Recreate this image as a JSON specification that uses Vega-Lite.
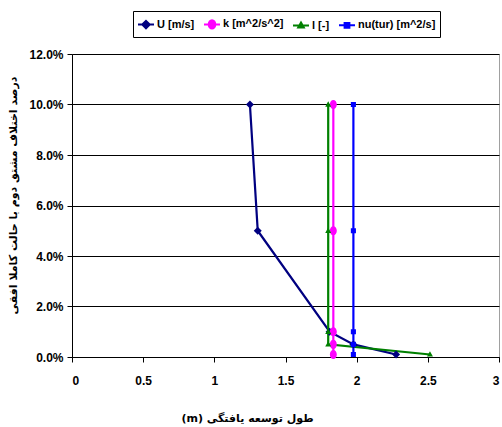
{
  "$schema": "https://vega.github.io/schema/vega-lite/v6.json",
  "width": 427,
  "height": 303,
  "autosize": "none",
  "padding": {"left": 72, "top": 54, "right": 3, "bottom": 70},
  "background": "white",
  "config": {
    "view": {"stroke": "#a0a0a0", "strokeWidth": 1},
    "font": "Liberation Sans"
  },
  "data": {
    "values": [
      {"series": "U [m/s]", "ord": 1, "x": 1.25, "y": 0.10},
      {"series": "U [m/s]", "ord": 2, "x": 1.305, "y": 0.05},
      {"series": "U [m/s]", "ord": 3, "x": 1.81, "y": 0.01},
      {"series": "U [m/s]", "ord": 4, "x": 1.977, "y": 0.005},
      {"series": "U [m/s]", "ord": 5, "x": 2.277, "y": 0.001},
      {"series": "k [m^2/s^2]", "ord": 1, "x": 1.836, "y": 0.10},
      {"series": "k [m^2/s^2]", "ord": 2, "x": 1.836, "y": 0.05},
      {"series": "k [m^2/s^2]", "ord": 3, "x": 1.836, "y": 0.01},
      {"series": "k [m^2/s^2]", "ord": 4, "x": 1.836, "y": 0.005},
      {"series": "k [m^2/s^2]", "ord": 5, "x": 1.836, "y": 0.001},
      {"series": "l [-]", "ord": 1, "x": 1.80, "y": 0.10},
      {"series": "l [-]", "ord": 2, "x": 1.80, "y": 0.05},
      {"series": "l [-]", "ord": 3, "x": 1.80, "y": 0.01},
      {"series": "l [-]", "ord": 4, "x": 1.80, "y": 0.005},
      {"series": "l [-]", "ord": 5, "x": 2.515, "y": 0.001},
      {"series": "nu(tur) [m^2/s]", "ord": 1, "x": 1.977, "y": 0.10},
      {"series": "nu(tur) [m^2/s]", "ord": 2, "x": 1.977, "y": 0.05},
      {"series": "nu(tur) [m^2/s]", "ord": 3, "x": 1.977, "y": 0.01},
      {"series": "nu(tur) [m^2/s]", "ord": 4, "x": 1.977, "y": 0.005},
      {"series": "nu(tur) [m^2/s]", "ord": 5, "x": 1.977, "y": 0.001}
    ]
  },
  "encoding": {
    "x": {
      "field": "x", "type": "quantitative",
      "scale": {"domain": [0, 3], "nice": false, "zero": false},
      "axis": {
        "values": [0, 0.5, 1, 1.5, 2, 2.5, 3],
        "format": "~g",
        "grid": false,
        "domainColor": "#000", "tickColor": "#000", "tickSize": 5,
        "labelFont": "Liberation Sans", "labelFontWeight": "bold", "labelFontSize": 12,
        "labelColor": "#000", "labelPadding": 13,
        "title": "(m) طول توسعه یافتگی",
        "titleFont": "DejaVu Sans", "titleFontWeight": "bold", "titleFontSize": 11,
        "titleColor": "#000",
        "titleX": 175, "titleY": 61, "titleAlign": "center", "titleBaseline": "middle"
      }
    },
    "y": {
      "field": "y", "type": "quantitative",
      "scale": {"domain": [0, 0.12], "nice": false},
      "axis": {
        "values": [0, 0.02, 0.04, 0.06, 0.08, 0.1, 0.12],
        "format": ".1%",
        "grid": true, "gridColor": "#000", "gridWidth": 1,
        "domainColor": "#000", "tickColor": "#000", "tickSize": 5,
        "labelFont": "Liberation Sans", "labelFontWeight": "bold", "labelFontSize": 12,
        "labelColor": "#000", "labelPadding": 4,
        "title": "درصد اختلاف مشتق دوم با حالت کاملا افقی",
        "titleFont": "DejaVu Sans", "titleFontWeight": "bold", "titleFontSize": 11,
        "titleColor": "#000",
        "titleX": -59, "titleY": 141, "titleAlign": "center", "titleBaseline": "middle", "titleAngle": -90
      }
    },
    "color": {
      "field": "series", "type": "nominal",
      "scale": {
        "domain": ["U [m/s]", "k [m^2/s^2]", "l [-]", "nu(tur) [m^2/s]"],
        "range": ["#000080", "#ff00ff", "#008000", "#0000ff"]
      },
      "legend": {
        "orient": "none", "legendX": 61, "legendY": -43,
        "direction": "horizontal", "title": null,
        "strokeColor": "#000", "fillColor": "#fff",
        "padding": 4, "columnPadding": 5,
        "labelFont": "Liberation Sans", "labelFontWeight": "bold", "labelFontSize": 11,
        "labelColor": "#000", "labelOffset": 2,
        "symbolSize": 256, "symbolStrokeWidth": 2
      }
    }
  },
  "layer": [
    {
      "mark": {"type": "line", "strokeWidth": 2.2},
      "encoding": {"order": {"field": "ord", "type": "quantitative"}}
    },
    {
      "mark": {"type": "point", "filled": true, "opacity": 1, "size": 289},
      "encoding": {
        "shape": {
          "field": "series", "type": "nominal",
          "scale": {
            "domain": ["U [m/s]", "k [m^2/s^2]", "l [-]", "nu(tur) [m^2/s]"],
            "range": [
              "M-1,0H1M0,-0.47L0.47,0L0,0.47L-0.47,0Z",
              "M-1,0H1M-0.41,0A0.41,0.53 0 1,0 0.41,0A0.41,0.53 0 1,0 -0.41,0Z",
              "M-1,0H1M0,-0.38L0.35,0.25L-0.35,0.25Z",
              "M-1,0H1M-0.3,-0.3H0.3V0.3H-0.3Z"
            ]
          },
          "legend": null
        },
        "stroke": {
          "field": "series", "type": "nominal",
          "scale": {
            "domain": ["U [m/s]", "k [m^2/s^2]", "l [-]", "nu(tur) [m^2/s]"],
            "range": ["#000080", "#ff00ff", "#008000", "#0000ff"]
          },
          "legend": null
        },
        "strokeWidth": {"value": 0}
      }
    }
  ]
}
